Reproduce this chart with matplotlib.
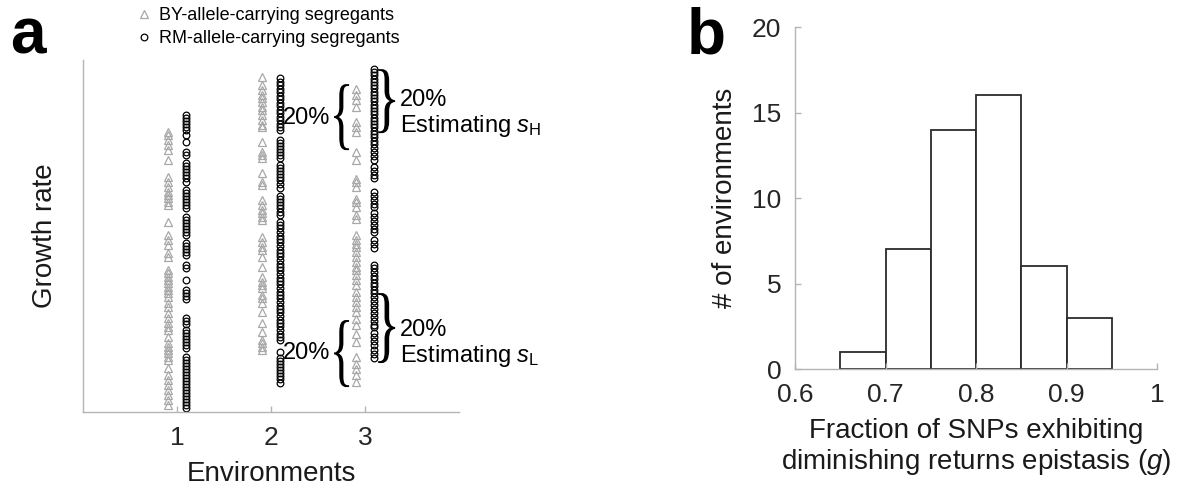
import numpy as np
import matplotlib
matplotlib.use('Agg')
from matplotlib import pyplot as plt
from matplotlib.textpath import TextPath
from matplotlib.font_manager import FontProperties
from matplotlib.patches import PathPatch
from matplotlib.transforms import Affine2D
from matplotlib.lines import Line2D

plt.rcParams['font.family'] = ['Liberation Sans', 'DejaVu Sans']
plt.rcParams['mathtext.fontset'] = 'custom'
plt.rcParams['mathtext.rm'] = 'Liberation Sans'
plt.rcParams['mathtext.it'] = 'Liberation Sans:italic'

#------------------------------------------------------------
# panel a: growth rate of segregants (arbitrary units), per environment
env_by1 = [280, 277, 272, 267, 262, 252, 235, 230, 225, 220, 217, 214, 210,
           207, 190, 177, 172, 167, 159, 155, 142, 139, 135, 132, 129, 125,
           122, 119, 115, 109, 105, 99, 94, 89, 85, 82, 75, 69, 65, 62, 59,
           55, 52, 44, 37, 32, 27, 22, 17, 12, 7]
env_rm1 = [297, 294, 291, 288, 285, 282, 277, 270, 260, 257, 249, 246, 243,
           240, 237, 234, 230, 222, 219, 216, 213, 210, 207, 204, 195, 192,
           189, 186, 183, 180, 177, 169, 166, 163, 160, 157, 147, 144, 132,
           122, 119, 116, 113, 94, 91, 88, 82, 79, 76, 73, 70, 67, 64, 55,
           52, 49, 46, 43, 40, 37, 34, 31, 28, 25, 22, 19, 16, 13, 10, 7, 4]
env_by2 = [335, 327, 322, 317, 314, 310, 305, 302, 297, 292, 287, 285, 270,
           260, 257, 254, 239, 230, 227, 212, 207, 202, 199, 195, 192, 175,
           170, 165, 162, 155, 145, 135, 130, 127, 124, 117, 114, 109, 100,
           89, 80, 72, 69, 65, 62]
env_rm2 = [334, 330, 327, 323, 320, 316, 313, 309, 306, 302, 299, 295, 292,
           288, 285, 282, 272, 269, 266, 263, 260, 257, 254, 247, 244, 241,
           238, 235, 232, 228, 224, 216, 213, 210, 207, 204, 200, 197, 190,
           187, 184, 180, 176, 173, 170, 166, 162, 159, 156, 152, 148, 145,
           142, 138, 134, 131, 128, 124, 120, 117, 114, 110, 106, 103, 100,
           96, 92, 89, 86, 82, 78, 75, 72, 60, 54, 51, 48, 45, 42, 39, 36,
           33, 29]
env_by3 = [323, 317, 312, 305, 290, 285, 280, 260, 252, 233, 230, 225, 213,
           210, 205, 197, 193, 177, 172, 168, 165, 160, 155, 150, 145, 142,
           137, 132, 127, 120, 115, 110, 105, 100, 93, 87, 78, 70, 55, 48,
           43, 37, 30]
env_rm3 = [343, 340, 337, 333, 330, 327, 324, 320, 317, 314, 311, 307, 304,
           301, 298, 294, 291, 288, 285, 281, 278, 275, 271, 268, 264, 260,
           256, 252, 245, 241, 237, 234, 220, 216, 212, 208, 205, 199, 195,
           191, 187, 183, 180, 172, 168, 164, 147, 144, 140, 136, 133, 129,
           126, 122, 119, 115, 111, 107, 103, 99, 95, 91, 87, 85, 79, 75, 71,
           67, 62, 58, 54]

environments = [1, 2, 3]
by_values = [env_by1, env_by2, env_by3]
rm_values = [env_rm1, env_rm2, env_rm3]

#------------------------------------------------------------
# panel b: histogram of g across environments
bin_edges = [0.65, 0.70, 0.75, 0.80, 0.85, 0.90, 0.95]
bin_counts = [1, 7, 14, 16, 6, 3]

spine_col = '#b4b4b4'
text_col = '#262626'


def brace(ax, char, x0, x1, y0, y1):
    # stretch a serif brace glyph into the data box [x0, x1] x [y0, y1]
    tp = TextPath((0, 0), char, size=10,
                  prop=FontProperties(family='Liberation Serif'))
    ext = tp.get_extents()
    tr = (Affine2D().translate(-ext.x0, -ext.y0)
          .scale((x1 - x0) / ext.width, (y1 - y0) / ext.height)
          .translate(x0, y0))
    ax.add_patch(PathPatch(tr.transform_path(tp), facecolor='black',
                           edgecolor='none', clip_on=False))


fig = plt.figure(figsize=(11.84, 4.97), dpi=100)
ax1 = fig.add_axes([0.0701, 0.171, 0.3176, 0.708])
ax2 = fig.add_axes([0.6715, 0.2575, 0.3057, 0.688])

for env, by, rm in zip(environments, by_values, rm_values):
    ax1.plot(np.full(len(by), env - 0.1), by, ls='none', marker='^', ms=6.2,
             mfc='none', mec='#a8a8a8', mew=0.9, clip_on=False)
    ax1.plot(np.full(len(rm), env + 0.1), rm, ls='none', marker='o', ms=4.8,
             mfc='none', mec='black', mew=0.9, clip_on=False)

ax1.set_xlim(0, 4)
ax1.set_ylim(0, 352)
ax1.set_xticks(environments)
ax1.set_yticks([])
ax1.set_xlabel('Environments', fontsize=20, color='#1a1a1a', labelpad=8)
ax1.set_ylabel('Growth rate', fontsize=20, color='#1a1a1a', labelpad=18)

# braces and annotations
brace(ax1, '{', 2.67, 2.83, 262, 328)
brace(ax1, '{', 2.67, 2.83, 25, 92)
brace(ax1, '}', 3.14, 3.32, 279, 343)
brace(ax1, '}', 3.14, 3.32, 49, 119)
ax1.text(2.63, 294, '20%', ha='right', va='center', fontsize=17)
ax1.text(2.63, 59, '20%', ha='right', va='center', fontsize=17)
ax1.text(3.37, 312, '20%', ha='left', va='center', fontsize=17)
ax1.text(3.37, 286, r'Estimating $s_{\mathrm{H}}$', ha='left', va='center',
         fontsize=17)
ax1.text(3.37, 82, '20%', ha='left', va='center', fontsize=17)
ax1.text(3.37, 56, r'Estimating $s_{\mathrm{L}}$', ha='left', va='center',
         fontsize=17)

handles = [Line2D([], [], ls='none', marker='^', ms=6.2, mfc='none',
                  mec='#a8a8a8', mew=0.9),
           Line2D([], [], ls='none', marker='o', ms=4.8, mfc='none',
                  mec='black', mew=0.9)]
ax1.legend(handles, ['BY-allele-carrying segregants',
                     'RM-allele-carrying segregants'],
           loc='upper left', bbox_to_anchor=(137 / 1184, 1 - 7 / 497),
           bbox_transform=fig.transFigure, frameon=False, fontsize=13,
           handlelength=0.8, handletextpad=0.4, labelspacing=0.35,
           borderpad=0, borderaxespad=0)

# histogram
ax2.bar(bin_edges[:-1], bin_counts, width=np.diff(bin_edges), align='edge',
        facecolor='white', edgecolor='#2b2b2b', linewidth=1.3)
ax2.set_xlim(0.6, 1.0)
ax2.set_ylim(0, 20)
ax2.set_xticks([0.6, 0.7, 0.8, 0.9, 1.0])
ax2.set_xticklabels(['0.6', '0.7', '0.8', '0.9', '1'])
ax2.set_yticks([0, 5, 10, 15, 20])
ax2.set_xlabel('Fraction of SNPs exhibiting\n'
               r'diminishing returns epistasis ($g$)',
               fontsize=20, color='#1a1a1a', labelpad=8, linespacing=1.15)
ax2.set_ylabel('# of environments', fontsize=20, color='#1a1a1a',
               labelpad=10)

for ax in (ax1, ax2):
    for side in ('top', 'right'):
        ax.spines[side].set_visible(False)
    for side in ('left', 'bottom'):
        ax.spines[side].set_color(spine_col)
        ax.spines[side].set_linewidth(1.0)
    ax.tick_params(direction='in', length=4, width=1, color=spine_col,
                   labelsize=19, labelcolor=text_col, pad=10)

fig.text(10 / 1184, 1 - 53 / 497, 'a', fontsize=46, fontweight='bold',
         va='baseline', ha='left')
fig.text(687 / 1184, 1 - 53 / 497, 'b', fontsize=46, fontweight='bold',
         va='baseline', ha='left')

plt.savefig('out.png', dpi=100)
